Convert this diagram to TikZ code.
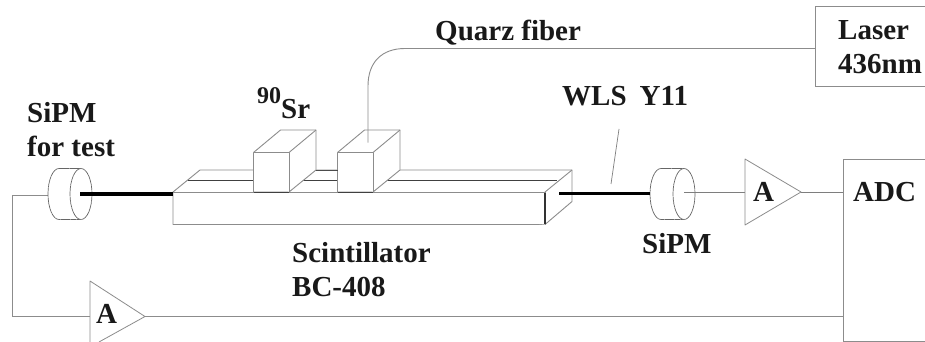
\documentclass[tikz,border=0pt]{standalone}
\usepackage{fontspec}
\setmainfont{Liberation Serif}
\definecolor{ln}{gray}{0.55}
\tikzset{
  x=1pt,y=-1pt,
  wire/.style={draw=ln,line width=0.9pt},
  thin wire/.style={draw=ln!90!black,line width=0.7pt},
  solid line/.style={draw=ln,line width=0.9pt,fill=white,line join=round},
  tube/.style={draw=black!60,line width=0.7pt,fill=white,dash pattern=on 5pt off 0.4pt},
  fibre/.style={draw=black,line width=3.2pt},
  groove/.style={draw=black!75,line width=1.1pt},
  lbl/.style={font=\fontsize{29}{31}\selectfont\bfseries,inner sep=0pt,anchor=base west,text=black!90},
}
% x of back-ellipse centre, x of front-ellipse centre, y centre
\newcommand{\sipmshape}[3]{%
  \draw[tube] (#1,#3-25.5) -- (#2,#3-25.5) arc[start angle=90,end angle=-90,x radius=11pt,y radius=25.5pt] -- (#1,#3+25.5) arc[start angle=270,end angle=90,x radius=11pt,y radius=25.5pt] -- cycle;
  \draw[tube] (#2,#3-25.5) arc[start angle=90,end angle=270,x radius=11pt,y radius=25.5pt];
}
\begin{document}
\begin{tikzpicture}
\useasboundingbox (0,0) rectangle (925,342);
\fill[white] (0,0) rectangle (925,342);

\coordinate (laserw) at (815,48.5);
\coordinate (fibtop) at (368,142.5);
\coordinate (adcTop) at (843,192);
\coordinate (adcBot) at (843,316.5);

% Scintillator bar
\draw[solid line] (173,192) -- (200,170) -- (572,170) -- (572,201.5) -- (545,224.5) -- (173,224.5) -- cycle;
\draw[solid line] (173,192) -- (545,192) -- (545,224.5);
\draw[solid line] (545,192) -- (572,170);
\draw[groove] (188,180.5) -- (557,180.5);
\draw[black!80,line width=1.2pt] (545,192.5) -- (545,224);

% Sr box
\draw[solid line] (253.5,152.5) -- (280.5,130) -- (316,130) -- (316,170) -- (289,192) -- (253.5,192) -- cycle;
\draw[solid line] (253.5,152.5) -- (289,152.5) -- (289,192);
\draw[solid line] (289,152.5) -- (316,130);
\draw[groove,line width=0.9pt] (253.5,192) -- (289,192);
% second box
\draw[solid line] (337.5,152.5) -- (364.5,130) -- (400,130) -- (400,170) -- (373,192) -- (337.5,192) -- cycle;
\draw[solid line] (337.5,152.5) -- (373,152.5) -- (373,192);
\draw[solid line] (373,152.5) -- (400,130);
\draw[groove,line width=0.9pt] (337.5,192) -- (373,192);
\draw[black!70,line width=0.9pt] (316,170) -- (337.5,170);

% Quartz fibre
\draw[wire] (fibtop) -- (368,86) .. controls (368,62) and (382,48.5) .. (405,48.5) -- (laserw);

% Laser
\draw[wire] (925,6) -- (815,6) -- (815,86) -- (925,86);

% ADC
\draw[wire] (925,159.5) -- (843,159.5) -- (843,341) -- (925,341);

% signal wires
\draw[wire] (48,195.5) -- (12,195.5) -- (12,316.5) -- (90,316.5);
\draw[wire] (145,316.5) -- (adcBot);

% SiPMs and fibres
\sipmshape{59}{81}{194}
\sipmshape{661}{684}{194}
\draw[fibre] (80,194) -- (173,194);
\draw[fibre] (559,193.5) -- (650,193.5);
\draw[thin wire] (684,192) -- (745,192);
\draw[thin wire] (619,129) -- (611,184);

% amplifiers
\draw[solid line,line width=0.8pt] (745,159) -- (801,192) -- (745,225) -- cycle;
\draw[thin wire] (801,192) -- (adcTop);
\draw[solid line,line width=0.8pt] (90,342) -- (90,281) -- (145,316.5) -- (99,342);

% labels
\node[lbl] (lqf) at (435,41) {Quarz fiber};
\node[lbl] (lsr) at (257,118) {\raisebox{15pt}{\fontsize{24}{24}\selectfont 90}Sr};
\node[lbl] (lwls) at (562,106) {WLS\hspace{13pt}Y11};
\node[lbl] (lt1) at (27,122) {SiPM};
\node[lbl] (lt2) at (27,156) {for test};
\node[lbl] (ls) at (642,253) {SiPM};
\node[lbl] (lb1) at (292,262) {Scintillator};
\node[lbl] (lb2) at (292,296) {BC-408};
\node[lbl] (ll1) at (838,40) {Laser};
\node[lbl] (ll2) at (838,74) {436nm};
\node[lbl] (ladc) at (853,201) {ADC};
\node[lbl] (la1) at (753,201) {A};
\node[lbl] (la2) at (96,323) {A};
\end{tikzpicture}
\end{document}
